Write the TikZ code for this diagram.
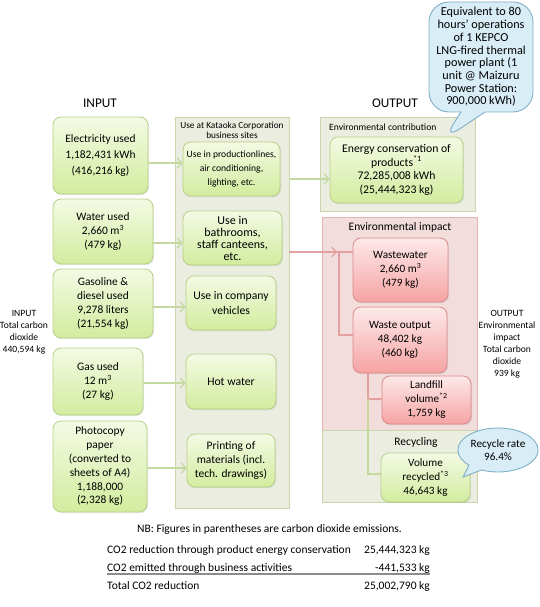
\documentclass[tikz,border=0pt]{standalone}
\usepackage{fontspec}
\setmainfont{Carlito}
\usetikzlibrary{arrows.meta,shapes.callouts,shadows,calc}
\definecolor{gtop}{HTML}{F4FAE4}
\definecolor{gbot}{HTML}{D2EC9E}
\definecolor{gline}{HTML}{B7CF88}
\definecolor{ptop}{HTML}{FDE9E9}
\definecolor{pbot}{HTML}{F6A3A3}
\definecolor{pline}{HTML}{D98A8A}
\definecolor{gpanel}{HTML}{EAEDDF}
\definecolor{gpanelline}{HTML}{C9D5AB}
\definecolor{ppanel}{HTML}{F2DCDC}
\definecolor{ppanelline}{HTML}{E5B3B3}
\definecolor{conng}{HTML}{C3D9A0}
\definecolor{connp}{HTML}{E3A0A0}
\definecolor{callfill}{HTML}{D8EDF6}
\definecolor{callline}{HTML}{7FB0C6}
\newcommand{\fsz}[2]{\fontsize{#1}{#2}\selectfont}
\begin{document}
\begin{tikzpicture}[x=1pt,y=-1pt,
  gbox/.style={draw=gline, line width=0.8pt, rounded corners=8pt, top color=gtop, bottom color=gbot,
    align=center, inner sep=1pt, drop shadow={opacity=0.18,shadow xshift=1pt,shadow yshift=-1.2pt}},
  pbox/.style={draw=pline, line width=0.8pt, rounded corners=8pt, top color=ptop, bottom color=pbot,
    align=center, inner sep=1pt, drop shadow={opacity=0.18,shadow xshift=1pt,shadow yshift=-1.2pt}},
  gpanel/.style={draw=gpanelline, fill=gpanel, line width=0.9pt, inner sep=0pt},
  ppanel/.style={draw=ppanelline, fill=ppanel, line width=0.9pt, inner sep=0pt},
  garrow/.style={draw=conng, line width=1.4pt, -{Straight Barb[length=4.5pt,width=10pt,line width=1.2pt]}},
  parrow/.style={draw=connp, line width=1.3pt, -{Straight Barb[length=4.5pt,width=10pt,line width=1.2pt]}},
  gconn/.style={draw=conng, line width=1.2pt},
  pconn/.style={draw=connp, line width=1.2pt},
  callbox/.style={fill=callfill, draw=callline, line width=0.9pt, align=center, inner sep=1pt},
  lbl/.style={align=center, inner sep=0pt},
  tbl/.style={inner sep=0pt, font=\fsz{11.5}{14}}
]
\useasboundingbox (0,0) rectangle (539,607);

% headings
\node[lbl, font=\fsz{13.3}{16}] (inhead) at (100,103) {INPUT};
\node[lbl, font=\fsz{13.3}{16}] (outhead) at (395,103) {OUTPUT};

% panels
\node[gpanel, minimum width=114pt, minimum height=391pt] (midpanel) at (232,312.5) {};
\node[gpanel, minimum width=155pt, minimum height=94pt] (contrib) at (397.5,164) {};
\node[ppanel, minimum width=155pt, minimum height=213pt] (impact) at (399.5,323.5) {};
\node[gpanel, minimum width=155pt, minimum height=72pt] (recpanel) at (399.5,466) {};

\node[lbl, font=\fsz{9.3}{10}] (midtitle) at (232,130) {Use at Kataoka Corporation\\business sites};
\node[lbl, anchor=west, font=\fsz{9.6}{11}] (contribtitle) at (329,127) {Environmental contribution};
\node[lbl, font=\fsz{11.5}{14}] (impacttitle) at (400,227) {Environmental impact};
\node[lbl, font=\fsz{11.5}{14}] (rectitle) at (416,442) {Recycling};

% input boxes
\node[gbox, minimum width=95pt, minimum height=77pt, font=\fsz{11.4}{16}] (elec) at (100.5,155.5)
  {Electricity used\\1,182,431 kWh\\(416,216 kg)};
\node[gbox, minimum width=100pt, minimum height=65pt, font=\fsz{11.4}{14}] (water) at (103,231.5)
  {Water used\\2,660 m\textsuperscript{3}\\(479 kg)};
\node[gbox, minimum width=100pt, minimum height=69pt, font=\fsz{11.4}{14}] (gasol) at (103,303.5)
  {Gasoline \&\\diesel used\\9,278 liters\\(21,554 kg)};
\node[gbox, minimum width=90pt, minimum height=67pt, font=\fsz{11.4}{14}] (gas) at (98,381.5)
  {Gas used\\12 m\textsuperscript{3}\\(27 kg)};
\node[gbox, minimum width=94pt, minimum height=91pt, font=\fsz{11.4}{13.8}] (paper) at (100,466.5)
  {Photocopy\\paper\\(converted to\\sheets of A4)\\1,188,000\\(2,328 kg)};

% middle boxes
\node[gbox, minimum width=97pt, minimum height=54pt, font=\fsz{9.6}{14}] (prod) at (231.5,169)
  {Use in productionlines,\\air conditioning,\\lighting, etc.};
\node[gbox, minimum width=99pt, minimum height=54pt, font=\fsz{12}{12}] (bath) at (232.5,238)
  {Use in\\bathrooms,\\staff canteens,\\etc.};
\node[gbox, minimum width=90pt, minimum height=54pt, font=\fsz{11.7}{15}] (veh) at (231,303)
  {Use in company\\vehicles};
\node[gbox, minimum width=90pt, minimum height=55pt, font=\fsz{11.7}{15}] (hot) at (231,381.5)
  {Hot water};
\node[gbox, minimum width=88pt, minimum height=53pt, font=\fsz{11.5}{14}] (print) at (231,460.5)
  {Printing of\\materials (incl.\\tech. drawings)};

% output boxes
\node[gbox, minimum width=133pt, minimum height=66pt, font=\fsz{11.7}{13.5}] (energy) at (396.5,170)
  {Energy conservation of\\products\textsuperscript{*1}\\72,285,008 kWh\\(25,444,323 kg)};
\node[pbox, minimum width=95pt, minimum height=64pt, font=\fsz{11.2}{14}] (wastewater) at (400.5,270)
  {Wastewater\\2,660 m\textsuperscript{3}\\(479 kg)};
\node[pbox, minimum width=94pt, minimum height=66pt, font=\fsz{11.2}{14}] (wasteout) at (400,340)
  {Waste output\\48,402 kg\\(460 kg)};
\node[pbox, minimum width=89pt, minimum height=48pt, font=\fsz{11.2}{14}] (landfill) at (426.5,400)
  {Landfill\\volume\textsuperscript{*2}\\1,759 kg};
\node[gbox, minimum width=89pt, minimum height=49pt, font=\fsz{11.2}{14}] (recycled) at (425.5,477.5)
  {Volume\\recycled\textsuperscript{*3}\\46,643 kg};

% callouts
\node[callbox, rectangle callout, rounded corners=20pt, minimum width=104pt, minimum height=110pt,
  callout absolute pointer={(443,140)}, callout pointer width=24pt, font=\fsz{12.2}{12.7}] (plant) at (481,57)
  {Equivalent to 80\\hours’ operations\\of 1 KEPCO\\LNG-fired thermal\\power plant (1\\unit @ Maizuru\\Power Station:\\900,000 kWh)};
\node[callbox, ellipse callout, minimum width=78pt, minimum height=44pt,
  callout absolute pointer={(463,477)}, callout pointer arc=22, font=\fsz{11.2}{13.5}] (rate) at (498,450)
  {Recycle rate\\96.4\%};

% side labels
\node[lbl, font=\fsz{9.6}{12}] (insum) at (24,332) {INPUT\\Total carbon\\dioxide\\440,594 kg};
\node[lbl, font=\fsz{9.6}{12}] (outsum) at (507,344) {OUTPUT\\Environmental\\impact\\Total carbon\\dioxide\\939 kg};

% connectors input -> use
\draw[garrow] (elec.east |- 0,163) -- (prod.west |- 0,163);
\draw[garrow] (water.east |- 0,243) -- (bath.west |- 0,243);
\draw[garrow] (gasol.east |- 0,307) -- (veh.west |- 0,307);
\draw[garrow] (gas.east |- 0,383) -- (hot.west |- 0,383);
\draw[garrow] (paper.east |- 0,468) -- (print.west |- 0,468);
\draw[garrow] (midpanel.east |- 0,179) -- (energy.west |- 0,179);

% impact connectors
\coordinate (j1) at (339,252);
\draw[parrow] (midpanel.east |- j1) -- ([xshift=-2pt]j1);
\draw[pconn] ([xshift=-3pt]j1) -- (wastewater.west |- j1);
\draw[pconn] (j1) |- (wasteout.west |- 0,335);
\coordinate (j2) at (368,399);
\draw[pconn] (wasteout.south -| j2) -- (j2) -- (landfill.west |- j2);
\draw[gconn] (j2) |- (recycled.west |- 0,474);

% bottom notes
\node[tbl, anchor=west] (nb) at (137,529) {NB: Figures in parentheses are carbon dioxide emissions.};
\node[tbl, anchor=west] (r1) at (107,550) {CO2 reduction through product energy conservation};
\node[tbl, anchor=east] (v1) at (430,550) {25,444,323 kg};
\node[tbl, anchor=west] (r2) at (107,568) {CO2 emitted through business activities};
\node[tbl, anchor=east] (v2) at (430,568) {-441,533 kg};
\node[tbl, anchor=west] (r3) at (107,586) {Total CO2 reduction};
\node[tbl, anchor=east] (v3) at (430,586) {25,002,790 kg};
\draw[draw=black!45, line width=1.3pt] (r2.west |- 0,574) -- (v2.east |- 0,574);
\end{tikzpicture}
\end{document}
